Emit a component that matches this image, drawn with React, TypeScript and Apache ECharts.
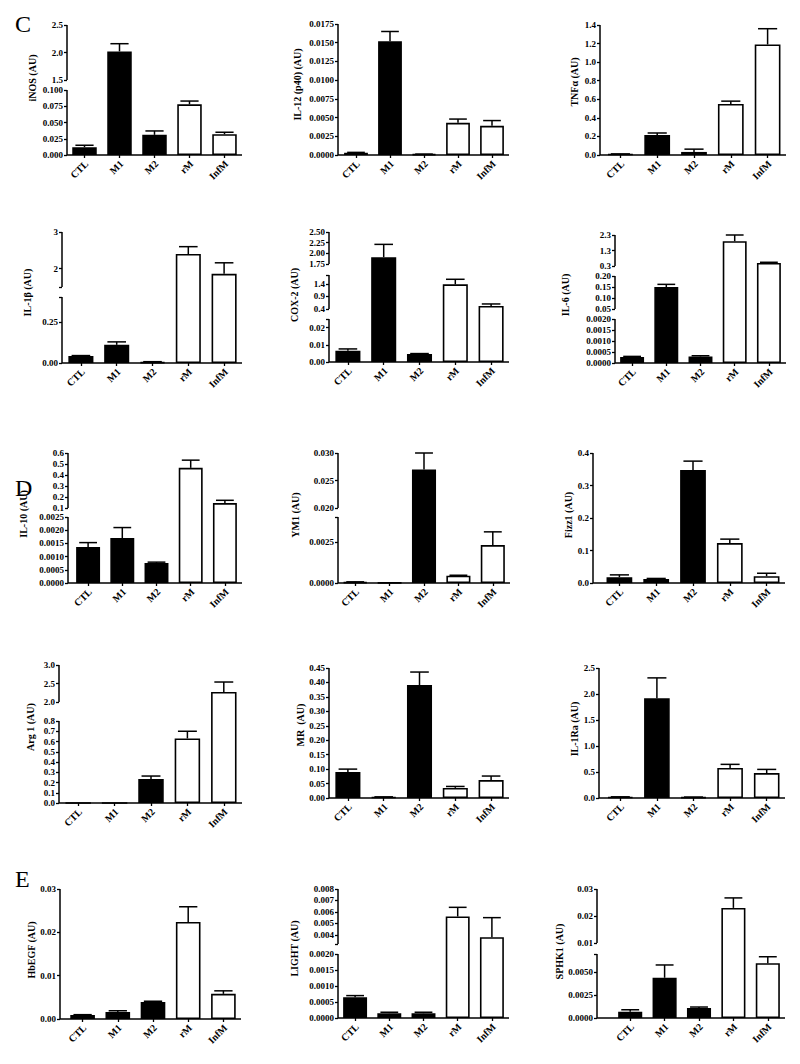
import React, { useEffect, useRef } from 'react';
import * as echarts from 'echarts';

const categories = ['CTL', 'M1', 'M2', 'rM', 'InfM'];
const darkCount = 3; // CTL, M1, M2 are black bars; rM, InfM are white

// ---- Section C ----
const iNOSValues = [0.012, 2.02, 0.031, 0.078, 0.032];
const iNOSErrors = [0.003, 0.14, 0.006, 0.005, 0.003];
const iNOSRanges = [[0, 0.1], [1.5, 2.5]];
const iNOSTicks = [['0.000', '0.025', '0.050', '0.075', '0.100'], ['1.5', '2.0', '2.5']];

const il12Values = [0.0003, 0.0152, 0.0001, 0.0043, 0.0039];
const il12Errors = [0.00005, 0.0013, 0.00002, 0.0005, 0.0007];
const il12Ranges = [[0, 0.0175]];
const il12Ticks = [['0.0000', '0.0025', '0.0050', '0.0075', '0.0100', '0.0125', '0.0150', '0.0175']];

const tnfValues = [0.01, 0.215, 0.033, 0.55, 1.19];
const tnfErrors = [0.002, 0.022, 0.03, 0.03, 0.17];
const tnfRanges = [[0, 1.4]];
const tnfTicks = [['0.0', '0.2', '0.4', '0.6', '0.8', '1.0', '1.2', '1.4']];

const il1bValues = [0.043, 0.11, 0.005, 2.4, 1.86];
const il1bErrors = [0.002, 0.018, 0.003, 0.2, 0.3];
const il1bRanges = [[0, 0.4], [1.5, 3]];
const il1bTicks = [['0.00', '0.25'], ['2', '3']];

const cox2Values = [0.0065, 1.91, 0.0047, 1.38, 0.52];
const cox2Errors = [0.0011, 0.3, 0.0002, 0.2, 0.08];
const cox2Ranges = [[0, 0.025], [0.4, 1.75], [1.75, 2.5]];
const cox2Ticks = [['0.00', '0.01', '0.02'], ['0.4', '0.9', '1.4'], ['1.75', '2.00', '2.25', '2.50']];

const il6Values = [0.00027, 0.15, 0.0003, 1.9, 0.5];
const il6Errors = [0.00003, 0.012, 0.00003, 0.4, 0.04];
const il6Ranges = [[0, 0.002], [0.05, 0.2], [0.3, 2.3]];
const il6Ticks = [['0.0000', '0.0005', '0.0010', '0.0015', '0.0020'], ['0.05', '0.10', '0.15', '0.20'], ['0.3', '1.3', '2.3']];

// ---- Section D ----
const il10Values = [0.00136, 0.0017, 0.00076, 0.465, 0.145];
const il10Errors = [0.00017, 0.0004, 0.00003, 0.07, 0.025];
const il10Ranges = [[0, 0.0025], [0.1, 0.6]];
const il10Ticks = [['0.0000', '0.0005', '0.0010', '0.0015', '0.0020', '0.0025'], ['0.1', '0.2', '0.3', '0.4', '0.5', '0.6']];

const ym1Values = [0.00005, 0.00001, 0.027, 0.00044, 0.0023];
const ym1Errors = [0.00002, 0, 0.003, 0.00003, 0.0008];
const ym1Ranges = [[0, 0.004], [0.02, 0.03]];
const ym1Ticks = [['0.0000', '0.0025'], ['0.020', '0.025', '0.030']];

const fizzValues = [0.018, 0.012, 0.348, 0.123, 0.021];
const fizzErrors = [0.007, 0.002, 0.027, 0.012, 0.009];
const fizzRanges = [[0, 0.4]];
const fizzTicks = [['0.0', '0.1', '0.2', '0.3', '0.4']];

const arg1Values = [0, 0, 0.233, 0.63, 2.27];
const arg1Errors = [0, 0, 0.03, 0.07, 0.27];
const arg1Ranges = [[0, 0.8], [2.0, 3.0]];
const arg1Ticks = [['0.0', '0.1', '0.2', '0.3', '0.4', '0.5', '0.6', '0.7', '0.8'], ['2.0', '2.5', '3.0']];

const mrValues = [0.09, 0.003, 0.391, 0.035, 0.062];
const mrErrors = [0.01, 0.001, 0.045, 0.005, 0.014];
const mrRanges = [[0, 0.45]];
const mrTicks = [['0.00', '0.05', '0.10', '0.15', '0.20', '0.25', '0.30', '0.35', '0.40', '0.45']];

const il1raValues = [0.02, 1.92, 0.015, 0.577, 0.48];
const il1raErrors = [0.003, 0.39, 0.003, 0.07, 0.07];
const il1raRanges = [[0, 2.5]];
const il1raTicks = [['0.0', '0.5', '1.0', '1.5', '2.0', '2.5']];

// ---- Section E ----
const hbegfValues = [0.0009, 0.0016, 0.0039, 0.0224, 0.0058];
const hbegfErrors = [0.0001, 0.0003, 0.0002, 0.0035, 0.0007];
const hbegfRanges = [[0, 0.03]];
const hbegfTicks = [['0.00', '0.01', '0.02', '0.03']];

const lightValues = [0.00065, 0.00015, 0.00015, 0.0056, 0.0038];
const lightErrors = [0.00005, 0.00003, 0.00003, 0.0008, 0.0017];
const lightRanges = [[0, 0.002], [0.0032, 0.008]];
const lightTicks = [['0.0000', '0.0005', '0.0010', '0.0015', '0.0020'], ['0.004', '0.005', '0.006', '0.007', '0.008']];

const sphk1Values = [0.00067, 0.0044, 0.0011, 0.023, 0.006];
const sphk1Errors = [0.00023, 0.0014, 0.0001, 0.0037, 0.0007];
const sphk1Ranges = [[0, 0.007], [0.01, 0.03]];
const sphk1Ticks = [['0.0000', '0.0025', '0.0050'], ['0.01', '0.02', '0.03']];

const panels = [
  { name: 'iNOS (AU)', values: iNOSValues, errors: iNOSErrors, ranges: iNOSRanges, ticks: iNOSTicks },
  { name: 'IL-12 (p40) (AU)', values: il12Values, errors: il12Errors, ranges: il12Ranges, ticks: il12Ticks },
  { name: 'TNFα (AU)', values: tnfValues, errors: tnfErrors, ranges: tnfRanges, ticks: tnfTicks },
  { name: 'IL-1β (AU)', values: il1bValues, errors: il1bErrors, ranges: il1bRanges, ticks: il1bTicks },
  { name: 'COX-2 (AU)', values: cox2Values, errors: cox2Errors, ranges: cox2Ranges, ticks: cox2Ticks },
  { name: 'IL-6 (AU)', values: il6Values, errors: il6Errors, ranges: il6Ranges, ticks: il6Ticks },
  { name: 'IL-10 (AU)', values: il10Values, errors: il10Errors, ranges: il10Ranges, ticks: il10Ticks },
  { name: 'YM1 (AU)', values: ym1Values, errors: ym1Errors, ranges: ym1Ranges, ticks: ym1Ticks },
  { name: 'Fizz1 (AU)', values: fizzValues, errors: fizzErrors, ranges: fizzRanges, ticks: fizzTicks },
  { name: 'Arg 1 (AU)', values: arg1Values, errors: arg1Errors, ranges: arg1Ranges, ticks: arg1Ticks },
  { name: 'MR  (AU)', values: mrValues, errors: mrErrors, ranges: mrRanges, ticks: mrTicks },
  { name: 'IL-1Ra (AU)', values: il1raValues, errors: il1raErrors, ranges: il1raRanges, ticks: il1raTicks },
  { name: 'HbEGF (AU)', values: hbegfValues, errors: hbegfErrors, ranges: hbegfRanges, ticks: hbegfTicks },
  { name: 'LIGHT (AU)', values: lightValues, errors: lightErrors, ranges: lightRanges, ticks: lightTicks },
  { name: 'SPHK1 (AU)', values: sphk1Values, errors: sphk1Errors, ranges: sphk1Ranges, ticks: sphk1Ticks },
];

// Layout (pixels): y-axis line x, category band start, band width,
// segment pixel extents [bottomY, topY], name gap, upward name shift
const layouts = [
  { axisX: 67, left: 67, width: 175, segPx: [[155, 90], [80, 25]], nameGap: 30, nameUp: 12 },
  { axisX: 338, left: 339, width: 170, segPx: [[155, 24]], nameGap: 36, nameUp: 5 },
  { axisX: 600, left: 602, width: 184, segPx: [[155, 25]], nameGap: 21, nameUp: 8 },
  { axisX: 62, left: 63, width: 179, segPx: [[363, 297], [287, 232]], nameGap: 30, nameUp: 5 },
  { axisX: 329, left: 330, width: 179, segPx: [[362, 319], [309, 275], [264, 232]], nameGap: 30, nameUp: 2 },
  { axisX: 615, left: 615, width: 171, segPx: [[363, 319], [309, 276], [266, 235]], nameGap: 45, nameUp: 4 },
  { axisX: 68, left: 71, width: 171, segPx: [[583, 517], [508, 453]], nameGap: 40, nameUp: 4 },
  { axisX: 338, left: 338, width: 172, segPx: [[583, 517], [508, 453]], nameGap: 38, nameUp: 3 },
  { axisX: 593, left: 601, width: 184, segPx: [[583, 453]], nameGap: 17, nameUp: 3 },
  { axisX: 59, left: 60, width: 182, segPx: [[803, 721], [702, 665]], nameGap: 24, nameUp: 7 },
  { axisX: 329, left: 330, width: 179, segPx: [[798, 668]], nameGap: 24, nameUp: 8 },
  { axisX: 599, left: 602, width: 183, segPx: [[798, 668]], nameGap: 20, nameUp: 4 },
  { axisX: 60, left: 65, width: 176, segPx: [[1019, 889]], nameGap: 23, nameUp: 4 },
  { axisX: 338, left: 338, width: 171, segPx: [[1018, 954], [944, 889]], nameGap: 39, nameUp: 5 },
  { axisX: 597, left: 613, width: 172, segPx: [[1018, 954], [943, 889]], nameGap: 18, nameUp: 2 },
];

const FONT = 'Liberation Serif';

function buildOption() {
  const grid: any[] = [];
  const xAxis: any[] = [];
  const yAxis: any[] = [];
  const series: any[] = [];

  panels.forEach((p, i) => {
    const L = layouts[i];
    const base = L.segPx[0][0];
    const top = L.segPx[L.segPx.length - 1][1];
    const H = base - top;
    const offset = L.left - L.axisX;
    const segs = p.ranges.map((r, k) => ({
      lo: r[0], hi: r[1], d0: base - L.segPx[k][0], d1: base - L.segPx[k][1],
    }));
    const segMap = (k: number, v: number) => {
      const s = segs[k];
      return s.d0 + ((v - s.lo) / (s.hi - s.lo)) * (s.d1 - s.d0);
    };
    const f = (v: number) => {
      if (v <= segs[0].lo) return segs[0].d0;
      for (let k = 0; k < segs.length; k++) {
        const s = segs[k];
        if (v <= s.hi) {
          if (v >= s.lo) return segMap(k, v);
          const prev = segs[k - 1];
          return prev.d1 + ((v - prev.hi) / (s.lo - prev.hi)) * (s.d0 - prev.d1);
        }
      }
      return segMap(segs.length - 1, v);
    };

    const labelEntries: { d: number; text: string }[] = [];
    const tickDs: number[] = [];
    p.ticks.forEach((list, k) => {
      list.forEach((t) => {
        const d = segMap(k, parseFloat(t));
        labelEntries.push({ d, text: t });
        tickDs.push(d);
      });
      tickDs.push(segs[k].d0, segs[k].d1);
    });
    const uniqTicks = tickDs.filter((d, idx) => tickDs.findIndex((e) => Math.abs(e - d) < 0.01) === idx);

    grid.push({ left: L.left, top, width: L.width, height: H, containLabel: false, outerBoundsMode: 'none' });

    xAxis.push({
      type: 'category',
      gridIndex: i,
      data: categories,
      boundaryGap: true,
      axisLine: { show: false },
      axisTick: { show: true, alignWithLabel: true, length: 3, lineStyle: { color: '#000', width: 1.3 } },
      axisLabel: { show: false },
      splitLine: { show: false },
    });

    yAxis.push({
      type: 'value',
      gridIndex: i,
      min: 0,
      max: H,
      offset,
      name: p.name,
      nameLocation: 'middle',
      nameRotate: 90,
      nameGap: L.nameGap,
      nameTextStyle: {
        color: '#000', fontFamily: FONT, fontWeight: 'bold', fontSize: 10,
        padding: [0, 0, 0, 2 * L.nameUp],
      },
      axisLine: { show: false },
      axisTick: { show: true, length: 3, customValues: uniqTicks, lineStyle: { color: '#000', width: 1.3 } },
      axisLabel: {
        customValues: labelEntries.map((e) => e.d),
        formatter: (val: number) => {
          const e = labelEntries.find((x) => Math.abs(x.d - val) < 0.01);
          return e ? e.text : '';
        },
        margin: 4, color: '#000', fontFamily: FONT, fontWeight: 'bold', fontSize: 9,
      },
      splitLine: { show: false },
    });

    series.push({
      type: 'bar',
      xAxisIndex: i,
      yAxisIndex: i,
      silent: true,
      barWidth: '70%',
      data: p.values.map((v, j) => ({
        value: f(v),
        itemStyle: { color: j < darkCount ? '#000' : '#fff' },
      })),
      itemStyle: { borderColor: '#000', borderWidth: 1.6 },
    });

    series.push({
      type: 'custom',
      xAxisIndex: i,
      yAxisIndex: i,
      silent: true,
      z: 3,
      encode: { x: 0, y: [1, 2] },
      data: p.values
        .map((v, j) => [j, f(v), f(v + p.errors[j]), p.errors[j]])
        .filter((d) => d[3] > 0),
      renderItem: (params: any, api: any) => {
        const x = api.value(0);
        const p0 = api.coord([x, api.value(1)]);
        const p1 = api.coord([x, api.value(2)]);
        const half = api.size([1, 0])[0] * 0.26;
        const st = { stroke: '#000', lineWidth: 1.5 };
        return {
          type: 'group',
          children: [
            { type: 'line', shape: { x1: p0[0], y1: p0[1], x2: p1[0], y2: p1[1] }, style: st },
            { type: 'line', shape: { x1: p1[0] - half, y1: p1[1], x2: p1[0] + half, y2: p1[1] }, style: st },
          ],
        };
      },
    });

    // Rotated category labels under the x-axis
    series.push({
      type: 'custom',
      xAxisIndex: i,
      yAxisIndex: i,
      silent: true,
      z: 4,
      data: categories.map((c, j) => [j, 0]),
      renderItem: (params: any, api: any) => {
        const pt = api.coord([api.value(0), 0]);
        return {
          type: 'text',
          x: pt[0] + 2,
          y: pt[1] + 7,
          rotation: Math.PI / 4,
          style: {
            text: categories[params.dataIndex],
            fontFamily: FONT,
            fontWeight: 'bold',
            fontSize: 10,
            fill: '#000',
            align: 'right',
            verticalAlign: 'middle',
          },
        };
      },
    });

    // Broken y-axis line segments and x-axis line
    series.push({
      type: 'custom',
      xAxisIndex: i,
      yAxisIndex: i,
      silent: true,
      z: 4,
      data: [[0, 0]],
      renderItem: (params: any, api: any) => {
        const cs = params.coordSys;
        const ax = cs.x - offset;
        const st = { stroke: '#000', lineWidth: 1.5 };
        const children: any[] = segs.map((s) => ({
          type: 'line',
          shape: { x1: ax, y1: api.coord([0, s.d0])[1], x2: ax, y2: api.coord([0, s.d1])[1] },
          style: st,
        }));
        const yb = api.coord([0, 0])[1];
        children.push({ type: 'line', shape: { x1: ax, y1: yb, x2: cs.x + cs.width, y2: yb }, style: st });
        return { type: 'group', children };
      },
    });
  });

  const letter = (text: string, y: number) => ({
    type: 'text',
    x: 15,
    y,
    style: { text, fontFamily: FONT, fontSize: 24, fill: '#000', verticalAlign: 'middle', align: 'left' },
  });

  return {
    animation: false,
    backgroundColor: '#fff',
    grid,
    xAxis,
    yAxis,
    series,
    graphic: [letter('C', 24), letter('D', 488), letter('E', 879)],
  };
}

export default function App() {
  const ref = useRef<HTMLDivElement>(null);
  useEffect(() => {
    if (!ref.current) return;
    const chart = echarts.init(ref.current, undefined, { renderer: 'svg' });
    chart.setOption(buildOption() as any);
    return () => chart.dispose();
  }, []);
  return (
    <div
      ref={ref}
      style={{ position: 'absolute', left: 0, top: 0, width: 800, height: 1064, background: '#fff' }}
    />
  );
}
